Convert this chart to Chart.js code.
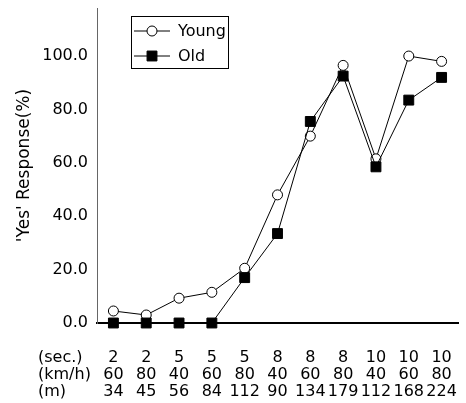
<!DOCTYPE html>
<html><head><meta charset="utf-8">
<script src="https://cdn.jsdelivr.net/npm/chart.js@4"></script>
<style>html,body{margin:0;padding:0;background:#fff}canvas{display:block}</style>
</head><body>
<canvas id="c" width="466" height="403"></canvas>
<script>
const secLabels = ['2','2','5','5','5','8','8','8','10','10','10'];
const kmhLabels = ['60','80','40','60','80','40','60','80','40','60','80'];
const mLabels = ['34','45','56','84','112','90','134','179','112','168','224'];
const rowHeaders = ['(sec.)','(km/h)','(m)'];
const youngValues = [4.5, 3.0, 9.3, 11.5, 20.5, 48, 70, 96.5, 61.5, 100, 98];
const oldValues = [0, 0, 0, 0, 17, 33.5, 75.5, 92.5, 58.5, 83.5, 92];
const yTicks = [0, 20, 40, 60, 80, 100];
const yTitle = "'Yes' Response(%)";

const FONT = "'DejaVu Sans'";
const labels = secLabels.map((s, i) => [s, kmhLabels[i], mLabels[i]]);
const X_PAD = 26, X_LH = 17;

const extras = {
  id: 'extras',
  afterDraw(chart) {
    const ctx = chart.ctx;
    const xs = chart.scales.x;
    ctx.save();
    ctx.fillStyle = '#000';
    ctx.font = '16px ' + FONT;
    ctx.textAlign = 'left';
    ctx.textBaseline = 'middle';
    rowHeaders.forEach((t, i) => {
      ctx.fillText(t, 38, xs.top + X_PAD + X_LH / 2 + i * X_LH);
    });
    // legend box
    const bx = 131, by = 16, bw = 97, bh = 52;
    ctx.strokeStyle = '#000';
    ctx.lineWidth = 1;
    ctx.strokeRect(bx + 0.5, by + 0.5, bw, bh);
    const rows = [31, 56];
    chart.data.datasets.forEach((ds, i) => {
      const y = rows[i];
      ctx.beginPath();
      ctx.moveTo(134, y); ctx.lineTo(170, y);
      ctx.strokeStyle = '#000'; ctx.lineWidth = 1; ctx.stroke();
      ctx.fillStyle = ds.pointBackgroundColor;
      ctx.strokeStyle = ds.pointBorderColor;
      Chart.helpers.drawPoint(ctx, {pointStyle: ds.pointStyle, radius: ds.pointRadius, rotation: 0, borderWidth: 1}, 152, y);
      ctx.fillStyle = '#000';
      ctx.font = '16px ' + FONT;
      ctx.textAlign = 'left';
      ctx.textBaseline = 'middle';
      ctx.fillText(ds.label, 178, y + 1);
    });
    ctx.restore();
  }
};

new Chart(document.getElementById('c'), {
  type: 'line',
  data: {
    labels: labels,
    datasets: [
      {label: 'Young', data: youngValues, borderColor: '#000', borderWidth: 1, tension: 0,
       pointStyle: 'circle', pointRadius: 5, pointBackgroundColor: '#fff', pointBorderColor: '#000',
       pointBorderWidth: 1, order: 1, clip: false},
      {label: 'Old', data: oldValues, borderColor: '#000', borderWidth: 1, tension: 0,
       pointStyle: 'rect', pointRadius: 7, pointBackgroundColor: '#000', pointBorderColor: '#000',
       pointBorderWidth: 1, order: 0, clip: false}
    ]
  },
  options: {
    responsive: false,
    animation: false,
    layout: {padding: {top: 5, right: 6, left: 0, bottom: 0}},
    plugins: {legend: {display: false}, tooltip: {enabled: false}},
    scales: {
      x: {
        offset: true,
        grid: {display: false, drawTicks: false},
        border: {display: true, color: '#000', width: 2},
        ticks: {color: '#000', font: {family: FONT, size: 16, lineHeight: X_LH / 16}, padding: X_PAD,
                maxRotation: 0, autoSkip: false},
        afterFit(s) { s.height = 80; s.paddingLeft = 0; s.paddingRight = 0; }
      },
      y: {
        min: 0, max: 118,
        afterBuildTicks(s) { s.ticks = yTicks.map(v => ({value: v})); },
        grid: {display: false, drawTicks: false},
        border: {display: true, color: '#666', width: 1},
        ticks: {color: '#000', font: {family: FONT, size: 16}, padding: 9,
                callback: v => Number(v).toFixed(1)},
        title: {display: true, text: yTitle, color: '#000', font: {family: FONT, size: 17}, padding: {top: 14, bottom: 0}},
        afterFit(s) { s.width = 97; s.paddingTop = 0; s.paddingBottom = 0; }
      }
    }
  },
  plugins: [extras]
});
</script>
</body></html>
